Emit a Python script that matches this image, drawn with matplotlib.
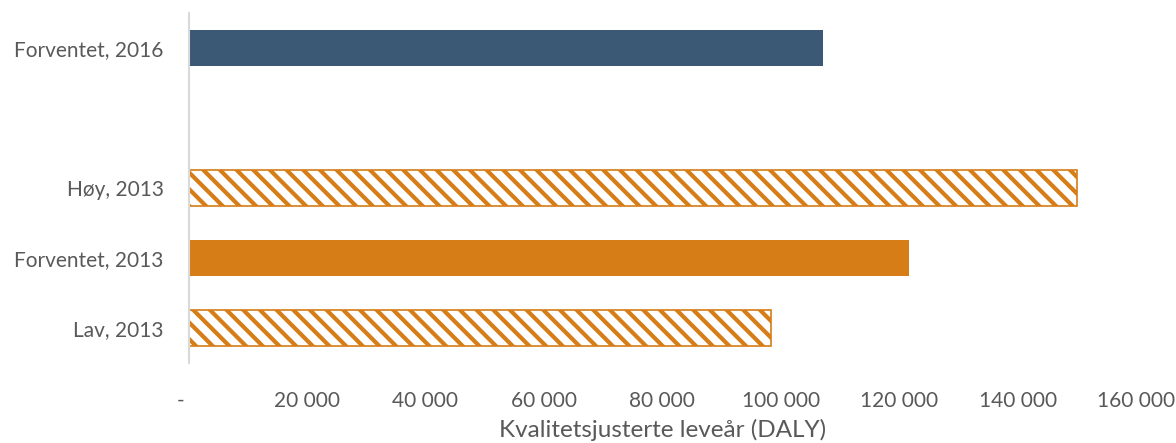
import matplotlib.pyplot as plt
from matplotlib.ticker import FuncFormatter

# DALY estimates, bottom to top (empty slot separates 2013 from 2016)
categories = ["Lav, 2013", "Forventet, 2013", "Høy, 2013", "", "Forventet, 2016"]
values = [98300, 121700, 150000, None, 107100]
hatched = [True, False, True, False, False]
colors = ["#D67D17", "#D67D17", "#D67D17", None, "#3B5875"]

xticks = [0, 20000, 40000, 60000, 80000, 100000, 120000, 140000, 160000]

plt.rcParams['font.family'] = ['Lato', 'DejaVu Sans']
plt.rcParams['hatch.linewidth'] = 3.0
txt = "#595959"

fig = plt.figure(figsize=(11.76, 4.43), dpi=100)
ax = fig.add_axes([0.1603, 0.1806, 0.8057, 0.7901])

for i, (v, h, c) in enumerate(zip(values, hatched, colors)):
    if v is None:
        continue
    if h:
        ax.barh(i, v, height=0.51, facecolor="white", edgecolor=c,
                hatch="\\\\", linewidth=1.2)
    else:
        ax.barh(i, v, height=0.51, color=c, linewidth=0)

ax.set_xlim(0, 160000)
ax.set_ylim(-0.5, len(categories) - 0.5)
ax.set_yticks(range(len(categories)))
ax.set_yticklabels(categories)
ax.set_xticks(xticks)


def fmt(x, pos):
    if x == 0:
        return "-   "
    return f"{int(x):,}".replace(",", " ")


ax.xaxis.set_major_formatter(FuncFormatter(fmt))
ax.tick_params(axis="both", length=0, labelsize=15, colors=txt)
ax.tick_params(axis="y", pad=18)
ax.tick_params(axis="x", pad=20)

for s in ["top", "right", "bottom"]:
    ax.spines[s].set_visible(False)
ax.spines["left"].set_color("#D9D9D9")
ax.spines["left"].set_linewidth(1.5)

ax.set_xlabel("Kvalitetsjusterte leveår (DALY)", fontsize=17.5, color=txt, labelpad=6)

fig.savefig("out.png", dpi=100)
